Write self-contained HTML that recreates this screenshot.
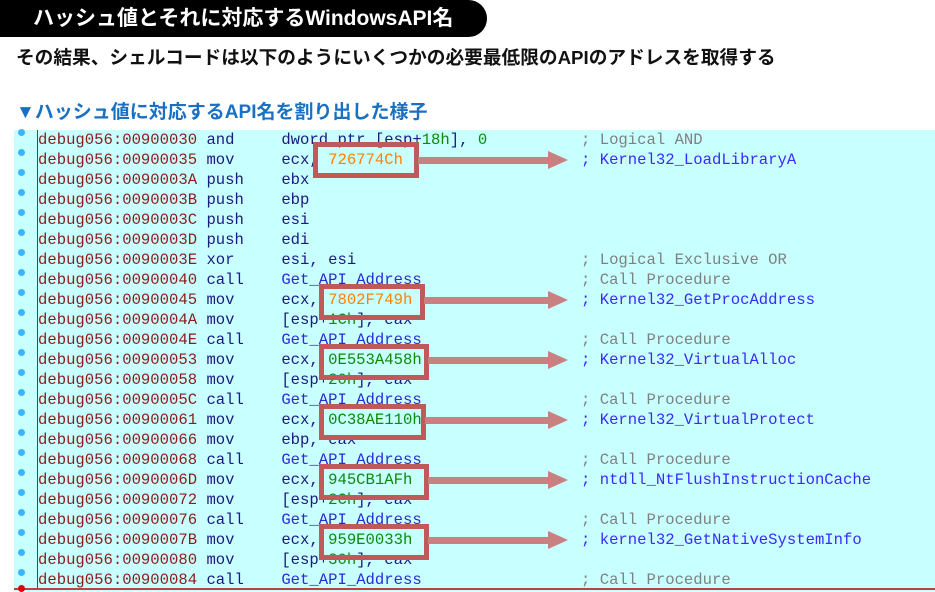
<!DOCTYPE html>
<html><head><meta charset="utf-8"><style>
body{margin:0;width:935px;height:591px;background:#fff;position:relative;overflow:hidden;font-family:"Liberation Sans","Noto Sans CJK JP",sans-serif}
.pill{position:absolute;left:0;top:0;width:487px;height:37px;background:#000;border-radius:0 19px 19px 0;color:#fff;font-weight:bold;font-size:21px;line-height:37px;padding-left:33px;box-sizing:border-box;white-space:nowrap}
.sub{position:absolute;left:16px;top:46px;font-size:18.7px;font-weight:bold;color:#111;white-space:nowrap;line-height:24px}
.hd{position:absolute;left:16px;top:101px;font-size:19px;font-weight:bold;color:#1a70c2;white-space:nowrap;line-height:24px}
.panel{position:absolute;left:14px;top:130px;width:921px;height:461px;background:#c8ffff}
.vl{position:absolute;left:37px;top:130px;width:1px;height:459px;background:#4040a0}
.bl{position:absolute;left:14px;top:588px;width:921px;height:2px;background:#c04040}
.dot{position:absolute;left:18px;width:7px;height:7px;border-radius:50%;background:#3ab4ff}
pre{position:absolute;margin:0;font-family:"Liberation Mono",monospace;font-size:15.6px;line-height:20px;color:#1a1a80}
.a{color:#8b1c1c}.c{color:#808080}.k{color:#3a2aff}.o{color:#ff8000}.g{color:#0a8a0a}.f{color:#2a2ad8}
.box{position:absolute;border:5px solid #c05a5a;box-sizing:border-box;height:36px}
.ar{position:absolute;height:7px;background:#c98080}
.ah{position:absolute;width:0;height:0;border-left:20px solid #c98080;border-top:9px solid transparent;border-bottom:9px solid transparent}
</style></head><body>
<div class="pill">ハッシュ値とそれに対応するWindowsAPI名</div>
<div class="sub">その結果、シェルコードは以下のようにいくつかの必要最低限のAPIのアドレスを取得する</div>
<div class="hd">▼ハッシュ値に対応するAPI名を割り出した様子</div>
<div class="panel"></div>
<div class="vl"></div>
<div class="bl"></div>
<div class="dot" style="top:129px"></div><div class="dot" style="top:149px"></div><div class="dot" style="top:169px"></div><div class="dot" style="top:189px"></div><div class="dot" style="top:209px"></div><div class="dot" style="top:229px"></div><div class="dot" style="top:249px"></div><div class="dot" style="top:269px"></div><div class="dot" style="top:289px"></div><div class="dot" style="top:309px"></div><div class="dot" style="top:329px"></div><div class="dot" style="top:349px"></div><div class="dot" style="top:369px"></div><div class="dot" style="top:389px"></div><div class="dot" style="top:409px"></div><div class="dot" style="top:429px"></div><div class="dot" style="top:449px"></div><div class="dot" style="top:469px"></div><div class="dot" style="top:489px"></div><div class="dot" style="top:509px"></div><div class="dot" style="top:529px"></div><div class="dot" style="top:549px"></div><div class="dot" style="top:569px"></div>
<div class="dot" style="top:585px;background:#e00000"></div>
<pre style="top:130px;left:38px"><span class="a">debug056:00900030</span> and     dword ptr [esp+<span class="g">18h</span>], <span class="g">0</span>
<span class="a">debug056:00900035</span> mov     ecx, <span class="o">726774Ch</span>
<span class="a">debug056:0090003A</span> push    ebx
<span class="a">debug056:0090003B</span> push    ebp
<span class="a">debug056:0090003C</span> push    esi
<span class="a">debug056:0090003D</span> push    edi
<span class="a">debug056:0090003E</span> xor     esi, esi
<span class="a">debug056:00900040</span> call    <span class="f">Get_API_Address</span>
<span class="a">debug056:00900045</span> mov     ecx, <span class="o">7802F749h</span>
<span class="a">debug056:0090004A</span> mov     [esp+<span class="g">1Ch</span>], eax
<span class="a">debug056:0090004E</span> call    <span class="f">Get_API_Address</span>
<span class="a">debug056:00900053</span> mov     ecx, <span class="g">0E553A458h</span>
<span class="a">debug056:00900058</span> mov     [esp+<span class="g">20h</span>], eax
<span class="a">debug056:0090005C</span> call    <span class="f">Get_API_Address</span>
<span class="a">debug056:00900061</span> mov     ecx, <span class="g">0C38AE110h</span>
<span class="a">debug056:00900066</span> mov     ebp, eax
<span class="a">debug056:00900068</span> call    <span class="f">Get_API_Address</span>
<span class="a">debug056:0090006D</span> mov     ecx, <span class="g">945CB1AFh</span>
<span class="a">debug056:00900072</span> mov     [esp+<span class="g">2Ch</span>], eax
<span class="a">debug056:00900076</span> call    <span class="f">Get_API_Address</span>
<span class="a">debug056:0090007B</span> mov     ecx, <span class="g">959E0033h</span>
<span class="a">debug056:00900080</span> mov     [esp+<span class="g">30h</span>], eax
<span class="a">debug056:00900084</span> call    <span class="f">Get_API_Address</span></pre>
<pre style="top:130px;left:581px"><span class="c">; Logical AND</span>
<span class="k">; Kernel32_LoadLibraryA</span>




<span class="c">; Logical Exclusive OR</span>
<span class="c">; Call Procedure</span>
<span class="k">; Kernel32_GetProcAddress</span>

<span class="c">; Call Procedure</span>
<span class="k">; Kernel32_VirtualAlloc</span>

<span class="c">; Call Procedure</span>
<span class="k">; Kernel32_VirtualProtect</span>

<span class="c">; Call Procedure</span>
<span class="k">; ntdll_NtFlushInstructionCache</span>

<span class="c">; Call Procedure</span>
<span class="k">; kernel32_GetNativeSystemInfo</span>

<span class="c">; Call Procedure</span></pre>
<div class="box" style="left:313px;top:142px;width:106px"></div>
<div class="ar" style="left:418px;top:157px;width:132px"></div><div class="ah" style="left:548px;top:151px"></div>
<div class="box" style="left:319px;top:284px;width:106px"></div>
<div class="ar" style="left:424px;top:297px;width:126px"></div><div class="ah" style="left:548px;top:291px"></div>
<div class="box" style="left:319px;top:344px;width:110px"></div>
<div class="ar" style="left:428px;top:357px;width:122px"></div><div class="ah" style="left:548px;top:351px"></div>
<div class="box" style="left:319px;top:404px;width:107px"></div>
<div class="ar" style="left:425px;top:417px;width:125px"></div><div class="ah" style="left:548px;top:411px"></div>
<div class="box" style="left:319px;top:464px;width:110px"></div>
<div class="ar" style="left:428px;top:477px;width:122px"></div><div class="ah" style="left:548px;top:471px"></div>
<div class="box" style="left:319px;top:524px;width:110px"></div>
<div class="ar" style="left:428px;top:537px;width:122px"></div><div class="ah" style="left:548px;top:531px"></div>
</body></html>
